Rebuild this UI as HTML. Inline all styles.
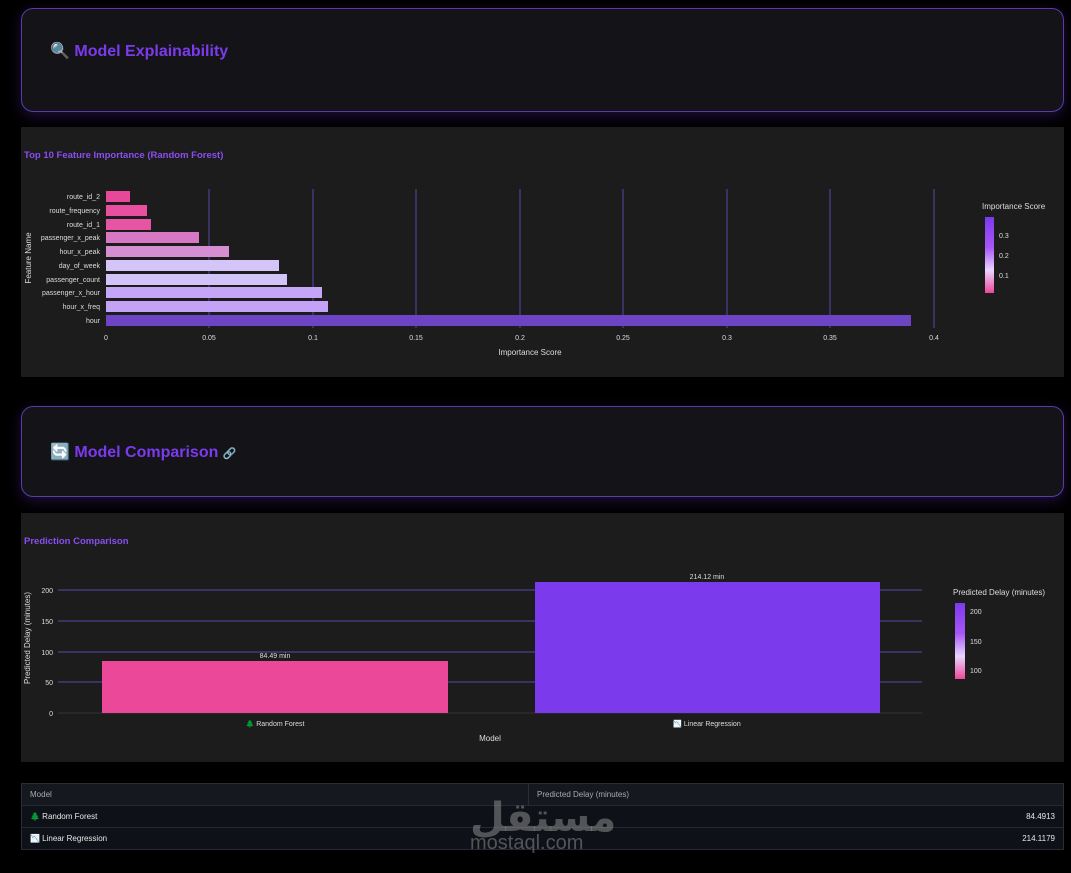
<!DOCTYPE html>
<html><head><meta charset="utf-8"><style>
body{margin:0;width:1071px;height:873px;background:#000;position:relative;overflow:hidden;font-family:"Liberation Sans","DejaVu Sans",sans-serif;color:#ddd}
.card{position:absolute;left:21px;width:1041px;border:1px solid #5b3ba8;border-radius:12px;background:#141418;box-shadow:0 4px 14px rgba(124,58,237,.25)}
.card h2{position:absolute;left:28px;margin:0;font-size:16px;font-weight:bold;color:#7c3aed}
.chart{position:absolute;left:21px;width:1043px;background:#1c1c1c}
svg text{font-family:"Liberation Sans",sans-serif}
table{position:absolute;left:21px;top:783px;width:1043px;border-collapse:collapse;font-size:8px;background:#0e1117;border:1px solid #2a2d35}
td{height:21px;padding:0 8px;border-bottom:1px solid #262a33;color:#e8e8e8}
tr.h td{color:#aaa;background:#15181f}
</style></head><body>
<div class="card" style="top:8px;height:102px"><h2 style="top:32px">🔍 Model Explainability</h2></div>
<div class="chart" style="top:127px;height:250px">
<svg width="1043" height="250" viewBox="21 127 1043 250">
<defs>
<linearGradient id="g1" x1="0" y1="1" x2="0" y2="0"><stop offset="0" stop-color="#ec4899"/><stop offset=".3" stop-color="#e9d5ff"/><stop offset=".6" stop-color="#a855f7"/><stop offset="1" stop-color="#7c3aed"/></linearGradient>
</defs>
<text x="24" y="158" font-size="9.5" font-weight="bold" fill="#8b4df0">Top 10 Feature Importance (Random Forest)</text>
<g stroke="#5848a8" stroke-width="1">
<line x1="209" y1="189" x2="209" y2="328"/><line x1="313" y1="189" x2="313" y2="328"/><line x1="416" y1="189" x2="416" y2="328"/><line x1="520" y1="189" x2="520" y2="328"/><line x1="623" y1="189" x2="623" y2="328"/><line x1="727" y1="189" x2="727" y2="328"/><line x1="830" y1="189" x2="830" y2="328"/><line x1="934" y1="189" x2="934" y2="328"/>
</g>
<g>
<rect x="106" y="191" width="24" height="11" fill="#e8489a"/>
<rect x="106" y="205" width="41" height="11" fill="#e84fa0"/>
<rect x="106" y="219" width="45" height="11" fill="#e654a4"/>
<rect x="106" y="232" width="93" height="11" fill="#d878c4"/>
<rect x="106" y="246" width="123" height="11" fill="#d68ed2"/>
<rect x="106" y="260" width="173" height="11" fill="#d5c4f8"/>
<rect x="106" y="274" width="181" height="11" fill="#d2c3f8"/>
<rect x="106" y="287" width="216" height="11" fill="#c5a5f6"/>
<rect x="106" y="301" width="222" height="11" fill="#c4a2f6"/>
<rect x="106" y="315" width="805" height="11" fill="#6d45c4"/>
</g>
<g font-size="7" fill="#ddd" text-anchor="end">
<text x="100" y="199">route_id_2</text><text x="100" y="213">route_frequency</text><text x="100" y="227">route_id_1</text><text x="100" y="240">passenger_x_peak</text><text x="100" y="254">hour_x_peak</text><text x="100" y="268">day_of_week</text><text x="100" y="282">passenger_count</text><text x="100" y="295">passenger_x_hour</text><text x="100" y="309">hour_x_freq</text><text x="100" y="323">hour</text>
</g>
<g font-size="7" fill="#ddd" text-anchor="middle">
<text x="106" y="340">0</text><text x="209" y="340">0.05</text><text x="313" y="340">0.1</text><text x="416" y="340">0.15</text><text x="520" y="340">0.2</text><text x="623" y="340">0.25</text><text x="727" y="340">0.3</text><text x="830" y="340">0.35</text><text x="934" y="340">0.4</text>
<text x="530" y="355" font-size="8">Importance Score</text>
</g>
<text transform="translate(31,258) rotate(-90)" font-size="8" fill="#ddd" text-anchor="middle">Feature Name</text>
<text x="982" y="209" font-size="8" fill="#ddd">Importance Score</text>
<rect x="985" y="217" width="9" height="76" fill="url(#g1)"/>
<g font-size="7" fill="#ddd"><text x="999" y="238">0.3</text><text x="999" y="258">0.2</text><text x="999" y="278">0.1</text></g>
</svg></div>
<div class="card" style="top:406px;height:89px"><h2 style="top:35px">🔄 Model Comparison <span style="font-size:11px;color:#bbb">🔗</span></h2></div>
<div class="chart" style="top:513px;height:249px">
<svg width="1043" height="249" viewBox="21 513 1043 249">
<defs><linearGradient id="g2" x1="0" y1="1" x2="0" y2="0"><stop offset="0" stop-color="#ec4899"/><stop offset=".3" stop-color="#e9d5ff"/><stop offset=".6" stop-color="#a855f7"/><stop offset="1" stop-color="#7c3aed"/></linearGradient></defs>
<text x="24" y="544" font-size="9.5" font-weight="bold" fill="#8b4df0">Prediction Comparison</text>
<g stroke="#5848a8"><line x1="58" y1="590" x2="922" y2="590"/><line x1="58" y1="621" x2="922" y2="621"/><line x1="58" y1="652" x2="922" y2="652"/><line x1="58" y1="682" x2="922" y2="682"/></g>
<line x1="58" y1="713" x2="922" y2="713" stroke="#333"/>
<rect x="102" y="661" width="346" height="52" fill="#ec4899"/>
<text x="707" y="579" font-size="7" fill="#ddd" text-anchor="middle">214.12 min</text>
<rect x="535" y="582" width="345" height="131" fill="#7c3aed"/>
<text x="275" y="658" font-size="7" fill="#ddd" text-anchor="middle">84.49 min</text>
<g font-size="7" fill="#ddd" text-anchor="end"><text x="53" y="593">200</text><text x="53" y="624">150</text><text x="53" y="655">100</text><text x="53" y="685">50</text><text x="53" y="716">0</text></g>
<g font-size="7" fill="#ddd" text-anchor="middle"><text x="275" y="726">🌲 Random Forest</text><text x="707" y="726">📉 Linear Regression</text><text x="490" y="741" font-size="8">Model</text></g>
<text transform="translate(30,638) rotate(-90)" font-size="8" fill="#ddd" text-anchor="middle">Predicted Delay (minutes)</text>
<text x="953" y="595" font-size="8" fill="#ddd">Predicted Delay (minutes)</text>
<rect x="955" y="603" width="10" height="76" fill="url(#g2)"/>
<g font-size="7" fill="#ddd"><text x="970" y="614">200</text><text x="970" y="644">150</text><text x="970" y="673">100</text></g>
</svg></div>
<table>
<tr class="h"><td style="width:490px">Model</td><td style="border-left:1px solid #2a2d35">Predicted Delay (minutes)</td></tr>
<tr><td>🌲 Random Forest</td><td style="text-align:right">84.4913</td></tr>
<tr><td>📉 Linear Regression</td><td style="text-align:right">214.1179</td></tr>
</table>
<div style="position:absolute;left:470px;top:795px;font-size:40px;font-weight:bold;color:rgba(140,140,140,.55);font-family:'DejaVu Sans',sans-serif">مستقل</div>
<div style="position:absolute;left:470px;top:832px;font-size:20px;color:rgba(140,140,140,.55)">mostaql.com</div>
</body></html>
